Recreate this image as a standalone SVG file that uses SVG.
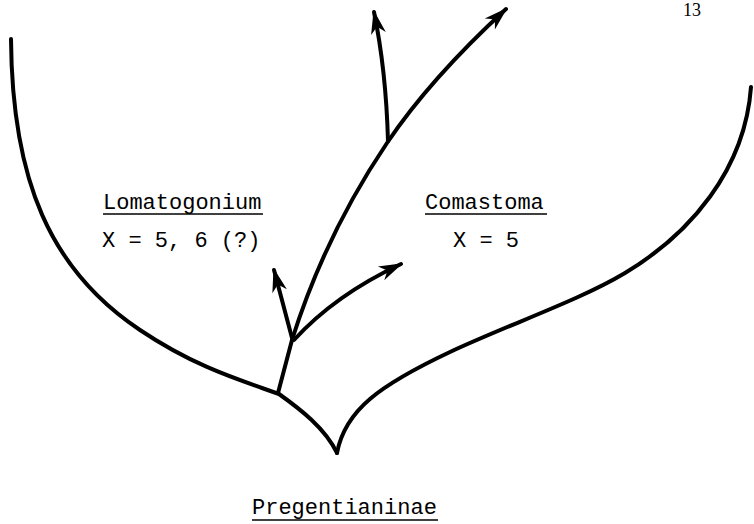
<svg xmlns="http://www.w3.org/2000/svg" width="754" height="524" viewBox="0 0 754 524">
<style>
.ln{fill:none;stroke:#000;stroke-width:4;stroke-linecap:round;stroke-linejoin:round}
.t{font-family:"Liberation Mono","DejaVu Sans Mono",monospace;font-size:22px;fill:#000}
.ul{stroke:#000;stroke-width:1.6}
</style>
<defs>
<marker id="ah" markerUnits="userSpaceOnUse" markerWidth="30" markerHeight="20" viewBox="-24 -10 30 20" refX="0" refY="0" orient="auto">
<path d="M2,0 L-22,-7.5 L-15,0 L-22,7.5 Z" fill="#000"/>
</marker>
</defs>
<rect width="754" height="524" fill="#fff"/>
<g id="connectors">
<path class="ln" d="M11 39 C12 180 50 270 140 330 C195 367 240 380 279 394 C300 409 325 428 337 453"/>
<path class="ln" d="M337 453 C345 410 380 385 450 352 C510 324 580 300 625 273 C690 234 745 170 751 87"/>
<path class="ln" d="M278 393 L292 340"/>
<path class="ln" d="M292 340 Q325 235 387 143 Q430 79 506 9" marker-end="url(#ah)"/>
<path class="ln" d="M388 141 Q386 70 374 12" marker-end="url(#ah)"/>
<path class="ln" d="M292 338 L274 270" marker-end="url(#ah)"/>
<path class="ln" d="M294 340 Q335 295 401 264" marker-end="url(#ah)"/>
</g>
<g id="lomatogonium">
<text class="t" x="103" y="209">Lomatogonium</text>
<line class="ul" x1="103" y1="214" x2="263" y2="214"/>
<text class="t" x="102" y="247">X = 5, 6 (?)</text>
</g>
<g id="comastoma">
<text class="t" x="425" y="209">Comastoma</text>
<line class="ul" x1="425" y1="214" x2="547" y2="214"/>
<text class="t" x="453" y="247">X = 5</text>
</g>
<g id="pregentianinae">
<text class="t" x="252" y="514">Pregentianinae</text>
<line class="ul" x1="252" y1="520" x2="438" y2="520"/>
</g>
<g id="page">
<text x="683" y="16" style="font-family:'Liberation Serif',serif;font-size:18px">13</text>
</g>
</svg>
